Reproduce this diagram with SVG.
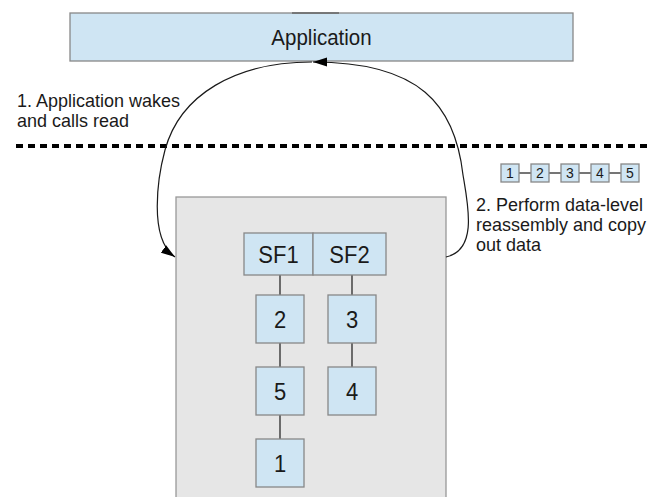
<svg xmlns="http://www.w3.org/2000/svg" width="661" height="497" viewBox="0 0 661 497">
<style>
.bx{fill:#cfe5f3;stroke:#888;stroke-width:1.3}
.t{font-family:"Liberation Sans",Arial,sans-serif;fill:#1a1a1a}
.lbl{font-size:18px}
.big{font-size:22px;text-anchor:middle}
.sm{font-size:14px;text-anchor:middle}
.ln{stroke:#1a1a1a;stroke-width:1.2;fill:none}
</style>
<defs>
<marker id="ah" viewBox="0 0 14 10" refX="14" refY="5" markerWidth="14" markerHeight="10" markerUnits="userSpaceOnUse" orient="auto">
<path d="M0,0.5 L14,5 L0,9.5 Z" fill="#000"/>
</marker>
</defs>
<rect width="661" height="497" fill="#fff"/>
<g id="application">
<rect class="bx" x="70" y="13" width="503" height="48"/>
<line x1="292" y1="13" x2="339" y2="13" stroke="#666" stroke-width="1.3"/>
<text class="t" transform="translate(321.5,44.5) scale(1,1.08)" font-size="20.5" text-anchor="middle">Application</text>
</g>
<g id="label1">
<text class="t lbl" transform="translate(17,107) scale(1,1.06)">1. Application wakes</text>
<text class="t lbl" transform="translate(17,127) scale(1,1.06)">and calls read</text>
</g>
<line id="boundary" x1="16" y1="146" x2="650" y2="146" stroke="#000" stroke-width="4" stroke-dasharray="7 5"/>
<g id="chain">
<g class="ln"><line x1="519" y1="173" x2="531" y2="173"/><line x1="549" y1="173" x2="561" y2="173"/><line x1="579" y1="173" x2="591" y2="173"/><line x1="609" y1="173" x2="621" y2="173"/></g>
<g id="c1"><rect class="bx" x="501" y="164" width="18" height="18"/><text class="t sm" x="510" y="178">1</text></g>
<g id="c2"><rect class="bx" x="531" y="164" width="18" height="18"/><text class="t sm" x="540" y="178">2</text></g>
<g id="c3"><rect class="bx" x="561" y="164" width="18" height="18"/><text class="t sm" x="570" y="178">3</text></g>
<g id="c4"><rect class="bx" x="591" y="164" width="18" height="18"/><text class="t sm" x="600" y="178">4</text></g>
<g id="c5"><rect class="bx" x="621" y="164" width="18" height="18"/><text class="t sm" x="630" y="178">5</text></g>
</g>
<g id="label2">
<text class="t lbl" transform="translate(476,211) scale(1,1.06)">2. Perform data-level</text>
<text class="t lbl" transform="translate(476,231) scale(1,1.06)">reassembly and copy</text>
<text class="t lbl" transform="translate(476,251) scale(1,1.06)">out data</text>
</g>
<g id="kernel">
<rect x="176" y="197" width="270" height="310" fill="#e6e6e6" stroke="#999" stroke-width="1.3"/>
</g>
<g id="connectors">
<line class="ln" x1="280" y1="275" x2="280" y2="295"/>
<line class="ln" x1="280" y1="343" x2="280" y2="367"/>
<line class="ln" x1="280" y1="415" x2="280" y2="439"/>
<line class="ln" x1="352" y1="275" x2="352" y2="295"/>
<line class="ln" x1="352" y1="343" x2="352" y2="367"/>
<path class="ln" d="M312,62 C235,62 180,95 165,150 C158,176 148,238 175,257" marker-end="url(#ah)"/>
<path class="ln" d="M446,257 C478,250 468,205 463,175 C455,105 420,62 313,62" marker-end="url(#ah)"/>
</g>
<g id="sf1"><rect class="bx" x="244" y="233" width="69" height="42"/><text class="t big" transform="translate(278.5,263) scale(1,1.08)">SF1</text></g>
<g id="sf2"><rect class="bx" x="313" y="233" width="73" height="42"/><text class="t big" transform="translate(349.5,263) scale(1,1.08)">SF2</text></g>
<g id="n2"><rect class="bx" x="256" y="295" width="48" height="48"/><text class="t big" transform="translate(280,327.5) scale(1,1.08)">2</text></g>
<g id="n3"><rect class="bx" x="328" y="295" width="48" height="48"/><text class="t big" transform="translate(352,327.5) scale(1,1.08)">3</text></g>
<g id="n5"><rect class="bx" x="256" y="367" width="48" height="48"/><text class="t big" transform="translate(280,399.5) scale(1,1.08)">5</text></g>
<g id="n4"><rect class="bx" x="328" y="367" width="48" height="48"/><text class="t big" transform="translate(352,399.5) scale(1,1.08)">4</text></g>
<g id="n1"><rect class="bx" x="256" y="439" width="48" height="48"/><text class="t big" transform="translate(280,471.5) scale(1,1.08)">1</text></g>
</svg>
